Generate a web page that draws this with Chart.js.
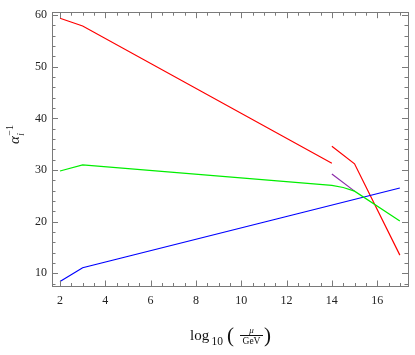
<!DOCTYPE html>
<html>
<head>
<meta charset="utf-8">
<script src="https://cdn.jsdelivr.net/npm/chart.js@4"></script>
<style>
  html, body { margin: 0; padding: 0; background: #fff; }
  #wrap { width: 415px; height: 355px; position: relative; }
</style>
</head>
<body>
<div id="wrap"><canvas id="c"></canvas></div>
<script>
// data
const red1X = [2, 3, 14];
const red1Y = [59.4, 57.9, 31.3];
const greenX = [2, 3, 14, 14.5, 15, 17];
const greenY = [29.8, 31.0, 27.0, 26.6, 25.9, 20.1];
const blueX = [2, 3, 17];
const blueY = [8.4, 11.05, 26.5];
const red2X = [14, 15, 17];
const red2Y = [34.6, 31.2, 13.5];
const purpleX = [14, 15];
const purpleY = [29.2, 25.9];

const xTicks = [2, 4, 6, 8, 10, 12, 14, 16];
const yTicks = [10, 20, 30, 40, 50, 60];

const FRAME = "#7a7a7a";
const SERIF = "'Liberation Serif', 'DejaVu Serif', serif";

const pts = (xs, ys) => xs.map((x, i) => ({ x: x, y: ys[i] }));
const line = (xs, ys, color) => ({
  data: pts(xs, ys),
  borderColor: color,
  borderWidth: 1.2,
  pointRadius: 0,
  tension: 0,
  fill: false
});

// Mathematica-style frame with inward ticks on all four sides, plus axis labels
const framePlugin = {
  id: "frame",
  afterDatasetsDraw(chart) {
    const { ctx, chartArea: a, scales: { x, y } } = chart;
    ctx.save();
    ctx.strokeStyle = FRAME;
    ctx.lineWidth = 1;
    ctx.strokeRect(Math.round(a.left) + 0.5, Math.round(a.top) + 0.5,
      Math.round(a.right - a.left), Math.round(a.bottom - a.top));

    ctx.beginPath();
    for (let v = 2; v <= 17.001; v += 0.5) {
      const len = (v % 2 === 0) ? 6 : 3.5;
      const px = Math.round(x.getPixelForValue(v)) + 0.5;
      ctx.moveTo(px, a.bottom); ctx.lineTo(px, a.bottom - len);
      ctx.moveTo(px, a.top); ctx.lineTo(px, a.top + len);
    }
    for (let v = 8; v <= 60.001; v += 2) {
      const len = (v % 10 === 0) ? 6 : 3.5;
      const py = Math.round(y.getPixelForValue(v)) + 0.5;
      ctx.moveTo(a.left, py); ctx.lineTo(a.left + len, py);
      ctx.moveTo(a.right, py); ctx.lineTo(a.right - len, py);
    }
    ctx.stroke();

    // x label: log10 (mu / GeV)
    ctx.fillStyle = "#111";
    ctx.textBaseline = "alphabetic";
    ctx.textAlign = "left";
    ctx.font = "15px " + SERIF;
    ctx.fillText("log", 190, 340);
    ctx.font = "11.5px " + SERIF;
    ctx.fillText("10", 211.5, 345);
    ctx.font = "21px " + SERIF;
    ctx.fillText("(", 227, 342);
    ctx.fillText(")", 264, 342);
    ctx.textAlign = "center";
    ctx.font = "italic 9px " + SERIF;
    ctx.fillText("\u03bc", 251.5, 332.5);
    ctx.font = "9.5px " + SERIF;
    ctx.fillText("GeV", 251.5, 344);
    ctx.beginPath();
    ctx.strokeStyle = "#111";
    ctx.moveTo(240, 335.5); ctx.lineTo(263, 335.5);
    ctx.stroke();

    // y label: alpha_i^-1
    ctx.translate(19, 144);
    ctx.rotate(-Math.PI / 2);
    ctx.textAlign = "left";
    ctx.font = "italic 15px " + SERIF;
    ctx.fillText("\u03b1", 0, 0);
    const w = ctx.measureText("\u03b1").width;
    ctx.font = "italic 9.5px " + SERIF;
    ctx.fillText("i", w + 0.5, 5);
    ctx.font = "10px " + SERIF;
    ctx.fillText("\u22121", w + 0.5, -6);
    ctx.restore();
  }
};

new Chart(document.getElementById("c"), {
  type: "line",
  data: {
    datasets: [
      line(red1X, red1Y, "#ff0000"),
      line(greenX, greenY, "#00ee00"),
      line(blueX, blueY, "#0000ff"),
      line(red2X, red2Y, "#ff0000"),
      line(purpleX, purpleY, "#8a2aa8")
    ]
  },
  options: {
    responsive: true,
    maintainAspectRatio: false,
    animation: false,
    layout: { padding: { top: 5, right: 7, left: 0, bottom: 0 } },
    plugins: { legend: { display: false }, tooltip: { enabled: false } },
    scales: {
      x: {
        type: "linear",
        min: 1.647,
        max: 17.36,
        grid: { display: false, drawTicks: false },
        border: { display: false },
        afterBuildTicks: s => { s.ticks = xTicks.map(v => ({ value: v })); },
        afterFit: s => { s.height = 68.5; },
        ticks: { color: "#222", padding: 7, maxRotation: 0, font: { family: SERIF, size: 12 } }
      },
      y: {
        type: "linear",
        min: 7.42,
        max: 60.57,
        grid: { display: false, drawTicks: false },
        border: { display: false },
        afterBuildTicks: s => { s.ticks = yTicks.map(v => ({ value: v })); },
        afterFit: s => { s.width = 52; },
        ticks: { color: "#222", padding: 5, font: { family: SERIF, size: 12 } }
      }
    }
  },
  plugins: [framePlugin]
});
</script>
</body>
</html>
